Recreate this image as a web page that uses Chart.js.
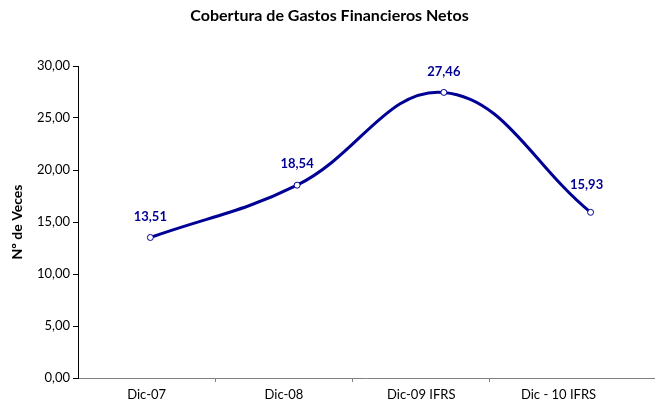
<!DOCTYPE html>
<html>
<head>
<meta charset="utf-8">
<script src="https://cdn.jsdelivr.net/npm/chart.js@4/dist/chart.umd.min.js"></script>
<style>
  body { margin: 0; background: #fff; }
</style>
</head>
<body>
<canvas id="myChart" width="659" height="407"></canvas>
<script>
// datos
const categories = ['Dic-07', 'Dic-08', 'Dic-09 IFRS', 'Dic - 10 IFRS'];
const values = [13.51, 18.54, 27.46, 15.93];
const yTicks = [0, 5, 10, 15, 20, 25, 30];

const navy = '#000095';
const fmt = v => v.toFixed(2).replace('.', ',');

// etiquetas encima de cada punto
const labelPlugin = {
    id: 'pointLabels',
    afterDatasetsDraw(chart) {
        const ctx = chart.ctx;
        const meta = chart.getDatasetMeta(0);
        ctx.save();
        ctx.font = 'bold 13px Lato, sans-serif';
        ctx.fillStyle = navy;
        ctx.textAlign = 'center';
        ctx.textBaseline = 'middle';
        meta.data.forEach((pt, i) => {
            ctx.fillText(fmt(values[i]), pt.x - (i === 3 ? 4 : 0), pt.y - (i === 3 ? 28 : 21));
        });
        ctx.restore();
    }
};

const config = {
    type: 'line',
    data: {
        datasets: [{
            data: values.map((v, i) => ({ x: i, y: v })),
            xAxisID: 'x2',
            borderColor: navy,
            borderWidth: 3,
            tension: 0.4,
            pointRadius: 3,
            pointBackgroundColor: '#fff',
            pointBorderColor: navy,
            pointBorderWidth: 1,
            clip: false,
        }],
    },
    options: {
        responsive: false,
        animation: false,
        plugins: {
            legend: false,
            tooltip: false,
            title: {
                display: true,
                text: 'Cobertura de Gastos Financieros Netos',
                color: '#000',
                font: { family: 'Lato, sans-serif', size: 16, weight: 'bold' },
                padding: { top: 6, bottom: 40.8 },
            },
        },
        scales: {
            x: {
                type: 'linear',
                min: -0.5,
                max: 3.695,
                afterBuildTicks: s => {
                    const t = [];
                    for (let v = -0.5; v <= 3.5; v += 0.5) t.push({ value: v });
                    s.ticks = t;
                },
                afterFit: s => { s.height = 29; },
                border: { color: '#808080', width: 1 },
                grid: {
                    drawOnChartArea: false,
                    drawTicks: true,
                    tickLength: 4,
                    tickColor: c => (c.tick && c.tick.value % 1 !== 0 && c.tick.value > 0 && c.tick.value < 3) ? '#808080' : 'rgba(0,0,0,0)',
                },
                ticks: {
                    autoSkip: false,
                    maxRotation: 0,
                    padding: 5,
                    color: '#000',
                    font: { family: 'Lato, sans-serif', size: 13 },
                    callback: v => (Number.isInteger(v) && v >= 0 && v < categories.length) ? categories[v] : '',
                },
            },
            x2: {
                type: 'linear',
                display: false,
                min: -0.493,
                max: 3.432,
            },
            y: {
                min: 0,
                max: 30,
                afterBuildTicks: s => { s.ticks = yTicks.map(v => ({ value: v })); },
                afterFit: s => { s.width = 78; },
                border: { color: '#000', width: 1 },
                grid: {
                    drawOnChartArea: false,
                    drawTicks: true,
                    tickLength: 5,
                    tickColor: '#000',
                },
                ticks: {
                    padding: 3,
                    color: '#000',
                    font: { family: 'Lato, sans-serif', size: 13 },
                    callback: v => fmt(v),
                },
                title: {
                    display: true,
                    text: 'Nº de Veces',
                    color: '#000',
                    font: { family: 'Lato, sans-serif', size: 14, weight: 'bold' },
                    padding: { top: 9, bottom: 0 },
                },
            },
        },
    },
    plugins: [labelPlugin],
};

new Chart(document.getElementById('myChart'), config);
</script>
</body>
</html>
